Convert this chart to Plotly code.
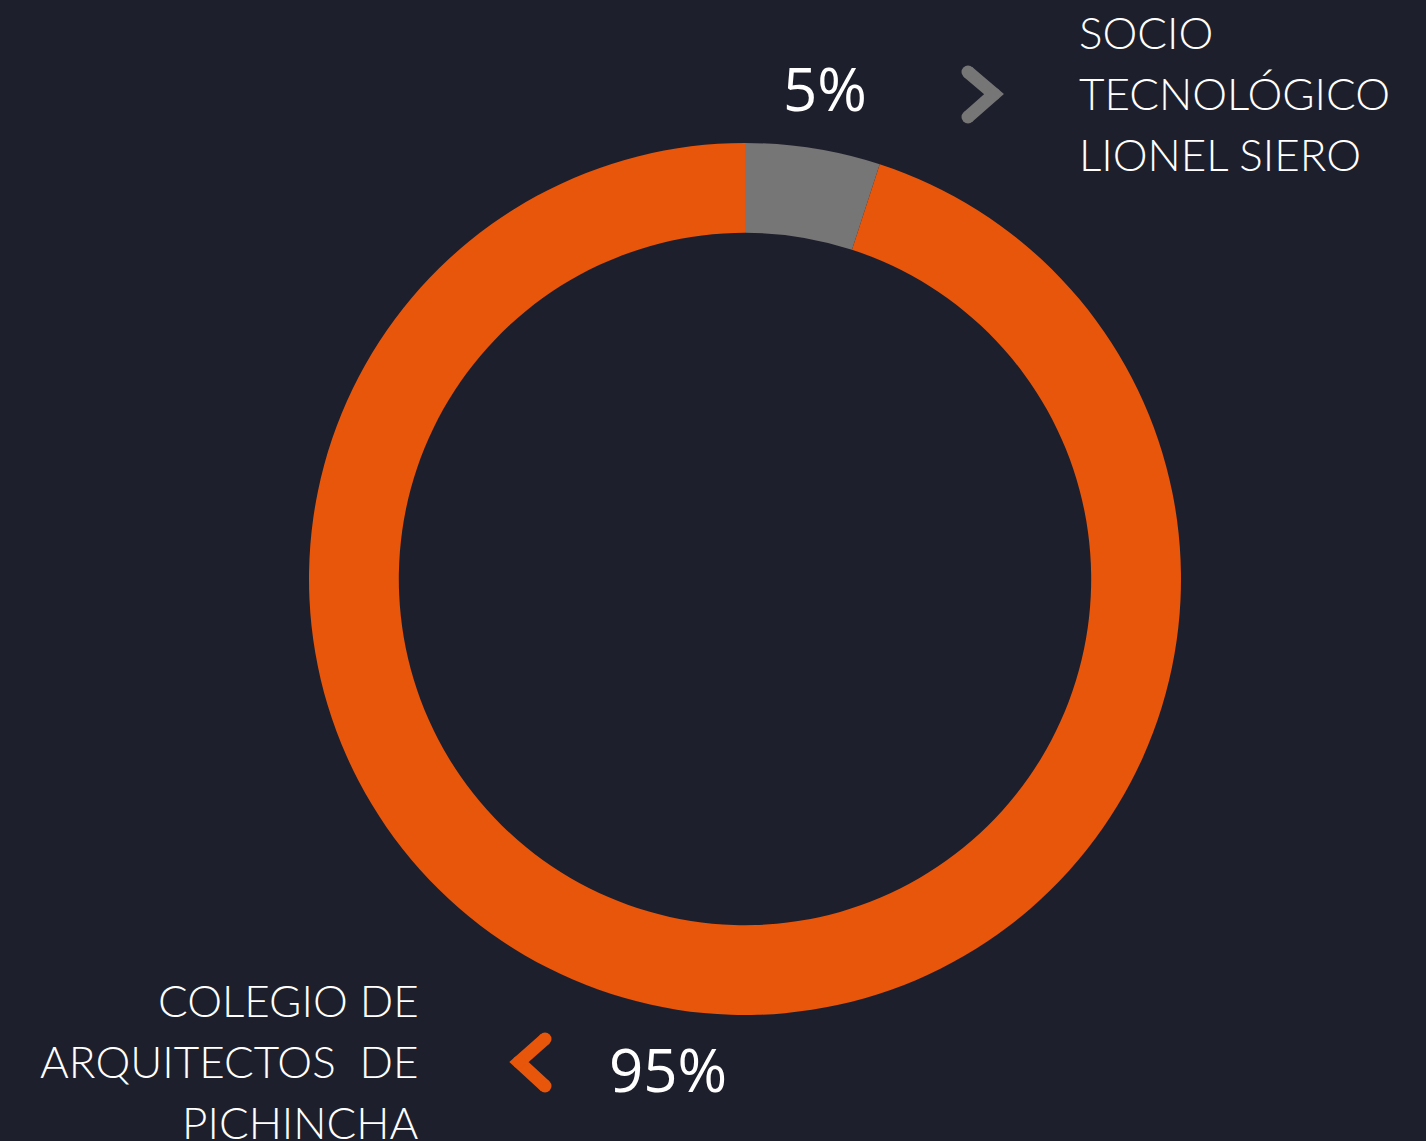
import plotly.graph_objects as go

W, H = 1426, 1141
BG = "#1e1f2c"

# ---- data ----
labels = ["SOCIO<br>TECNOLÓGICO<br>LIONEL SIERO", "COLEGIO DE<br>ARQUITECTOS\u00a0 DE<br>PICHINCHA"]
values = [5, 95]
colors = ["#767676", "#e8560b"]

def px(x):
    return x / W

def py(y):
    return 1 - y / H

fig = go.Figure()

cx, cy, r = 745, 579, 436
fig.add_trace(go.Pie(
    labels=labels, values=values, sort=False, direction="clockwise", rotation=0,
    hole=0.794, textinfo="none", hoverinfo="label+percent",
    marker=dict(colors=colors, line=dict(width=0)),
    domain=dict(x=[px(cx - r), px(cx + r)], y=[py(cy + r), py(cy - r)]),
    showlegend=False,
))

# chevrons (decorative) in pixel space
chev = [
    dict(x=[968, 994, 968], y=[72, 94, 117], color=colors[0]),
    dict(x=[545, 519, 545], y=[1039, 1062, 1086], color=colors[1]),
]
for c in chev:
    fig.add_trace(go.Scatter(
        x=c["x"], y=c["y"], mode="lines+markers",
        line=dict(color=c["color"], width=13),
        marker=dict(color=c["color"], size=13),
        hoverinfo="skip", showlegend=False, xaxis="x", yaxis="y",
    ))

pct_font = dict(family="Open Sans, Noto Sans, sans-serif", size=60, color="white")
lab_font = dict(family="Lato, sans-serif", size=44, color="white", weight=300)

ann = []
# percentages
ann.append(dict(x=px(825), y=py(88), text=f"{values[0]}%", font=pct_font,
                xanchor="center", yanchor="middle"))
ann.append(dict(x=px(668), y=py(1069), text=f"{values[1]}%", font=pct_font,
                xanchor="center", yanchor="middle"))
# label lines
for i, line in enumerate(labels[0].split("<br>")):
    ann.append(dict(x=px(1077), y=py(32 + 61 * i), text=line, font=lab_font,
                    xanchor="left", yanchor="middle"))
for i, line in enumerate(labels[1].split("<br>")):
    ann.append(dict(x=px(421), y=py(1000 + 61 * i), text=line, font=lab_font,
                    xanchor="right", yanchor="middle"))
for a in ann:
    a.update(xref="paper", yref="paper", showarrow=False)

fig.update_layout(
    width=W, height=H, margin=dict(l=0, r=0, t=0, b=0),
    paper_bgcolor=BG, plot_bgcolor=BG,
    xaxis=dict(range=[0, W], visible=False, domain=[0, 1], fixedrange=True),
    yaxis=dict(range=[H, 0], visible=False, domain=[0, 1], fixedrange=True),
    annotations=ann,
)

fig.write_html(
    "out.html",
    config={"displayModeBar": False},
    post_script="document.body.style.margin='0';document.body.style.background='#1e1f2c';",
)
